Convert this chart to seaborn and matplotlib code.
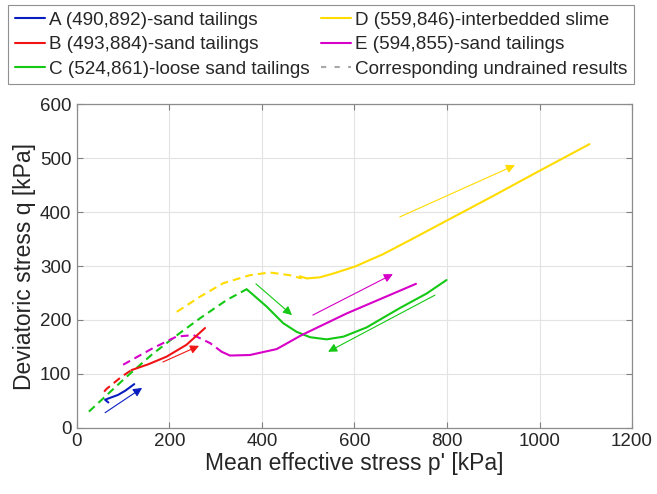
import matplotlib
matplotlib.use("Agg")
import matplotlib.pyplot as plt
import seaborn as sns
import pandas as pd
from matplotlib.lines import Line2D

# ---- data ----
labels = ["A (490,892)-sand tailings", "B (493,884)-sand tailings",
          "C (524,861)-loose sand tailings", "D (559,846)-interbedded slime",
          "E (594,855)-sand tailings"]
colors = ["#0a1ec0", "#f01414", "#14c814", "#ffdc00", "#d700c8"]

# drained (solid) paths
A_p = [68, 61, 70, 89, 105, 124]
A_q = [47, 52, 55, 61, 69, 81]
B_p = [118, 155, 194, 237, 277]
B_q = [107, 118, 132, 154, 185]
C_p = [367, 410, 446, 475, 504, 540, 576, 626, 698, 756, 799]
C_q = [257, 225, 194, 178, 168, 164, 169, 186, 222, 249, 274]
D_p = [482, 497, 525, 554, 601, 662, 720, 799, 900, 1001, 1108]
D_q = [281, 277, 279, 286, 299, 322, 348, 384, 430, 477, 526]
E_p = [313, 331, 374, 432, 486, 583, 733]
E_q = [141, 134, 135, 146, 172, 212, 267]

# undrained (dashed) paths
Bu_p = [59, 64, 97, 118]
Bu_q = [67, 72, 95, 107]
Cu_p = [26, 50, 104, 161, 212, 266, 324, 367]
Cu_q = [30, 49, 92, 135, 169, 203, 237, 257]
Du_p = [216, 266, 316, 374, 417, 460, 486]
Du_q = [215, 243, 268, 283, 288, 283, 277]
Eu_p = [100, 165, 215, 252, 288, 313]
Eu_q = [117, 148, 169, 172, 157, 141]

# direction arrows: start p, start q, end p, end q
arrow_colors = ["#0a1ec0", "#f01414", "#14c814", "#14c814", "#ffdc00", "#d700c8"]
arrow_p0 = [61, 186, 387, 774, 698, 510]
arrow_q0 = [28, 122, 267, 246, 391, 209]
arrow_p1 = [141, 264, 465, 543, 947, 683]
arrow_q1 = [74, 152, 209, 141, 487, 285]

xticks = [0, 200, 400, 600, 800, 1000, 1200]
yticks = [0, 100, 200, 300, 400, 500, 600]

# ---- plotting ----
sns.set_theme(style="whitegrid")
plt.rcParams["font.family"] = ["Liberation Sans", "DejaVu Sans"]

fig = plt.figure(figsize=(6.57, 4.94), dpi=100)
ax = fig.add_axes([0.117, 0.134, 0.845, 0.655])

LW = 1.5
DASH = (3.8, 2.4)

solid = [(A_p, A_q), (B_p, B_q), (C_p, C_q), (D_p, D_q), (E_p, E_q)]
dashed = [(None, None), (Bu_p, Bu_q), (Cu_p, Cu_q), (Du_p, Du_q), (Eu_p, Eu_q)]

for (pp, qq), col in zip(dashed, colors):
    if pp is None:
        continue
    df = pd.DataFrame({"p": pp, "q": qq})
    sns.lineplot(data=df, x="p", y="q", ax=ax, color=col, lw=LW, sort=False,
                 estimator=None, linestyle=(0, DASH))

for (pp, qq), col in zip(solid, colors):
    df = pd.DataFrame({"p": pp, "q": qq})
    sns.lineplot(data=df, x="p", y="q", ax=ax, color=col, lw=LW, sort=False,
                 estimator=None)

for c, x0, y0, x1, y1 in zip(arrow_colors, arrow_p0, arrow_q0, arrow_p1, arrow_q1):
    ax.annotate("", xy=(x1, y1), xytext=(x0, y0),
                arrowprops=dict(arrowstyle="-|>", color=c, lw=0.8,
                                mutation_scale=13, shrinkA=0, shrinkB=0))

ax.set_xlim(0, 1200)
ax.set_ylim(0, 600)
ax.set_xticks(xticks)
ax.set_yticks(yticks)
ax.set_xlabel("Mean effective stress p' [kPa]", fontsize=16.5, color="#262626", labelpad=1)
ax.set_ylabel("Deviatoric stress q [kPa]", fontsize=16.5, color="#262626", labelpad=3)
ax.tick_params(axis="both", which="both", direction="in", length=4, width=0.8,
               colors="#808080", labelcolor="#262626", labelsize=13.5,
               top=True, right=True, bottom=True, left=True, pad=4)
ax.grid(True, color="#e3e3e3", lw=0.8)
ax.set_facecolor("white")
for s in ax.spines.values():
    s.set_visible(True)
    s.set_color("#8c8c8c")
    s.set_linewidth(0.9)

handles = [Line2D([0], [0], color=c, lw=1.5) for c in colors]
handles.append(Line2D([0], [0], color="#a8a8a8", lw=1.5, linestyle=(0, (2.5, 4))))
leg_labels = labels + ["Corresponding undrained results"]
leg = fig.legend(handles, leg_labels, loc="upper left", ncol=2,
                 bbox_to_anchor=(8 / 657, 1 - 5 / 494), fontsize=13.6, frameon=True,
                 fancybox=False, edgecolor="#909090", framealpha=1,
                 handlelength=1.6, handletextpad=0.2, columnspacing=0.6,
                 borderpad=0.35, labelspacing=0.38, borderaxespad=0)
leg.get_frame().set_linewidth(0.8)

fig.savefig("out.png", dpi=100)
